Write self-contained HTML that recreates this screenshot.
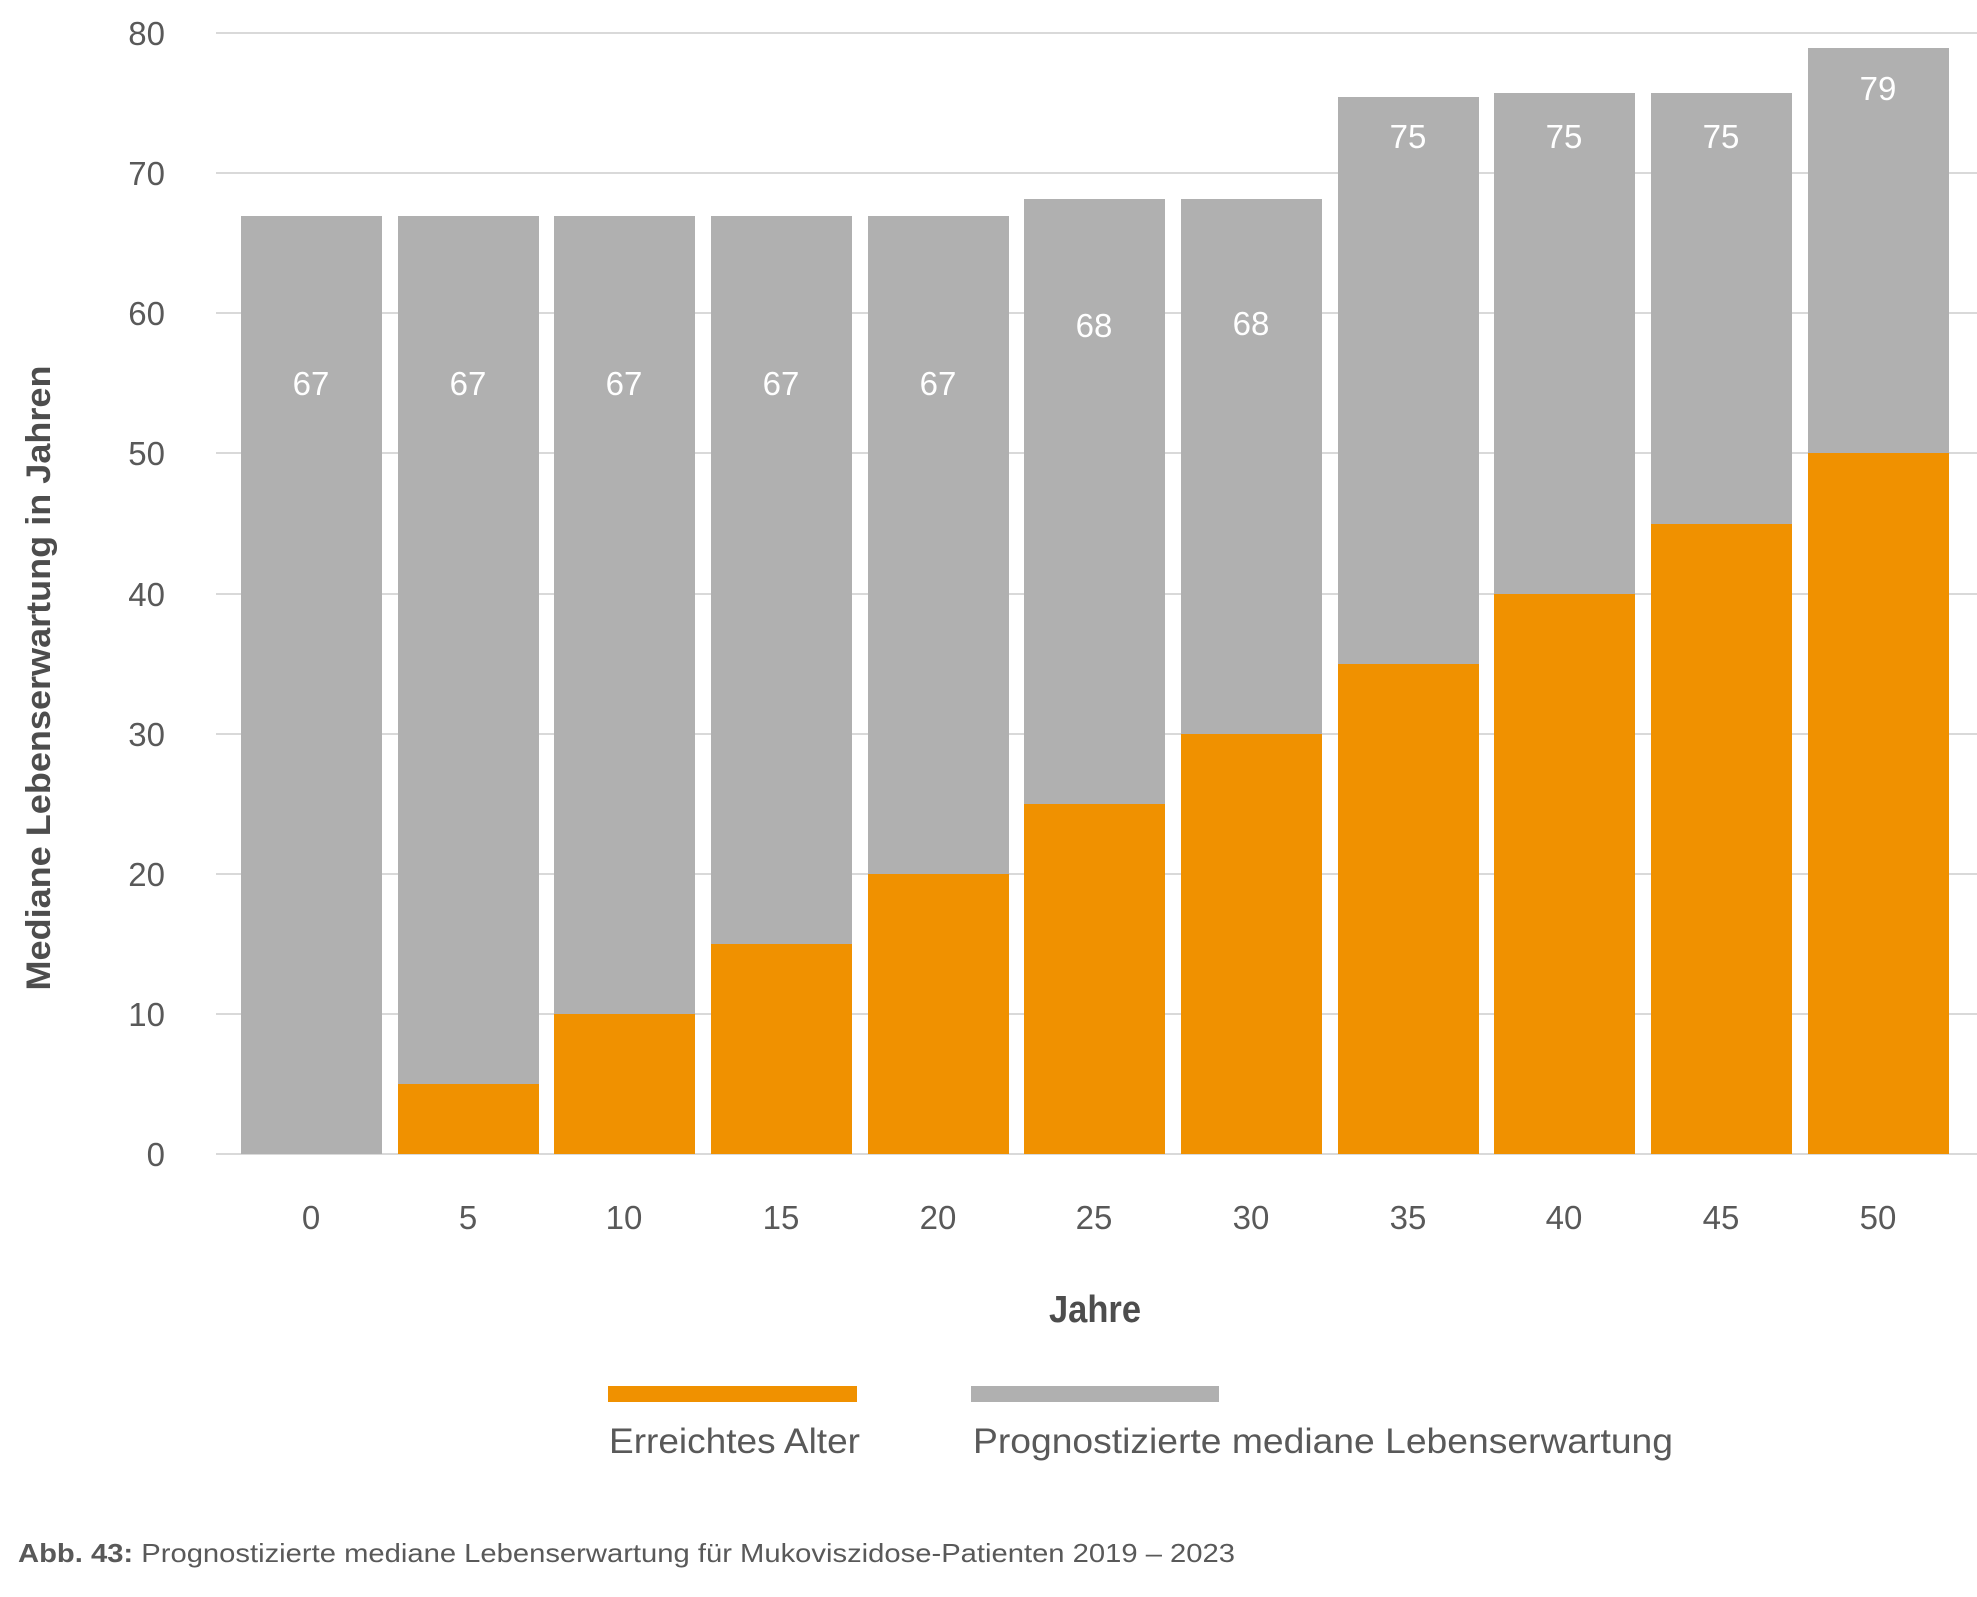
<!DOCTYPE html>
<html><head><meta charset="utf-8"><style>html,body{margin:0;padding:0;background:#fff}svg{display:block}</style></head>
<body>
<svg width="1977" height="1597" xmlns="http://www.w3.org/2000/svg" font-family="Liberation Sans, sans-serif">
<g stroke="#d9d9d9" stroke-width="2">
<line x1="216" x2="1977" y1="33" y2="33"/><line x1="216" x2="1977" y1="173" y2="173"/>
<line x1="216" x2="1977" y1="313" y2="313"/><line x1="216" x2="1977" y1="453" y2="453"/>
<line x1="216" x2="1977" y1="594" y2="594"/><line x1="216" x2="1977" y1="734" y2="734"/>
<line x1="216" x2="1977" y1="874" y2="874"/><line x1="216" x2="1977" y1="1014" y2="1014"/>
<line x1="216" x2="1977" y1="1154" y2="1154"/>
</g>
<g fill="#595959" font-size="33" text-anchor="end">
<text x="165" y="45">80</text><text x="165" y="185">70</text><text x="165" y="325">60</text>
<text x="165" y="465">50</text><text x="165" y="606">40</text><text x="165" y="746">30</text>
<text x="165" y="886">20</text><text x="165" y="1026">10</text><text x="165" y="1166">0</text>
</g>
<g id="bars">
<rect x="241" y="216" width="141" height="938" fill="#b0b0b0"/>
<rect x="398" y="216" width="141" height="938" fill="#b0b0b0"/><rect x="398" y="1084" width="141" height="70" fill="#f09100"/>
<rect x="554" y="216" width="141" height="938" fill="#b0b0b0"/><rect x="554" y="1014" width="141" height="140" fill="#f09100"/>
<rect x="711" y="216" width="141" height="938" fill="#b0b0b0"/><rect x="711" y="944" width="141" height="210" fill="#f09100"/>
<rect x="868" y="216" width="141" height="938" fill="#b0b0b0"/><rect x="868" y="874" width="141" height="280" fill="#f09100"/>
<rect x="1024" y="199" width="141" height="955" fill="#b0b0b0"/><rect x="1024" y="804" width="141" height="350" fill="#f09100"/>
<rect x="1181" y="199" width="141" height="955" fill="#b0b0b0"/><rect x="1181" y="734" width="141" height="420" fill="#f09100"/>
<rect x="1338" y="97" width="141" height="1057" fill="#b0b0b0"/><rect x="1338" y="664" width="141" height="490" fill="#f09100"/>
<rect x="1494" y="93" width="141" height="1061" fill="#b0b0b0"/><rect x="1494" y="594" width="141" height="560" fill="#f09100"/>
<rect x="1651" y="93" width="141" height="1061" fill="#b0b0b0"/><rect x="1651" y="524" width="141" height="630" fill="#f09100"/>
<rect x="1808" y="48" width="141" height="1106" fill="#b0b0b0"/><rect x="1808" y="453" width="141" height="701" fill="#f09100"/>
</g>
<g fill="#fff" font-size="33" text-anchor="middle">
<text x="311" y="395">67</text><text x="468" y="395">67</text><text x="624" y="395">67</text>
<text x="781" y="395">67</text><text x="938" y="395">67</text><text x="1094" y="337">68</text>
<text x="1251" y="335">68</text><text x="1408" y="148">75</text><text x="1564" y="148">75</text>
<text x="1721" y="148">75</text><text x="1878" y="100">79</text>
</g>
<g fill="#595959" font-size="33" text-anchor="middle">
<text x="311" y="1229">0</text><text x="468" y="1229">5</text><text x="624" y="1229">10</text>
<text x="781" y="1229">15</text><text x="938" y="1229">20</text><text x="1094" y="1229">25</text>
<text x="1251" y="1229">30</text><text x="1408" y="1229">35</text><text x="1564" y="1229">40</text>
<text x="1721" y="1229">45</text><text x="1878" y="1229">50</text>
</g>
<text x="1095" y="1322" font-size="38" font-weight="bold" fill="#4d4d4d" text-anchor="middle" textLength="92" lengthAdjust="spacingAndGlyphs">Jahre</text>
<text transform="translate(50,678) rotate(-90)" font-size="34" font-weight="bold" fill="#4d4d4d" text-anchor="middle" textLength="625" lengthAdjust="spacingAndGlyphs">Mediane Lebenserwartung in Jahren</text>
<rect x="608" y="1386" width="249" height="16" fill="#f09100"/>
<rect x="971" y="1386" width="248" height="16" fill="#b0b0b0"/>
<g fill="#595959" font-size="35">
<text x="609" y="1453" textLength="251" lengthAdjust="spacingAndGlyphs">Erreichtes Alter</text>
<text x="973" y="1453" textLength="700" lengthAdjust="spacingAndGlyphs">Prognostizierte mediane Lebenserwartung</text>
</g>
<text x="18" y="1562" font-size="26" fill="#595959" textLength="1217" lengthAdjust="spacingAndGlyphs"><tspan font-weight="bold">Abb. 43:</tspan> Prognostizierte mediane Lebenserwartung für Mukoviszidose-Patienten 2019 – 2023</text>
</svg>
</body></html>
